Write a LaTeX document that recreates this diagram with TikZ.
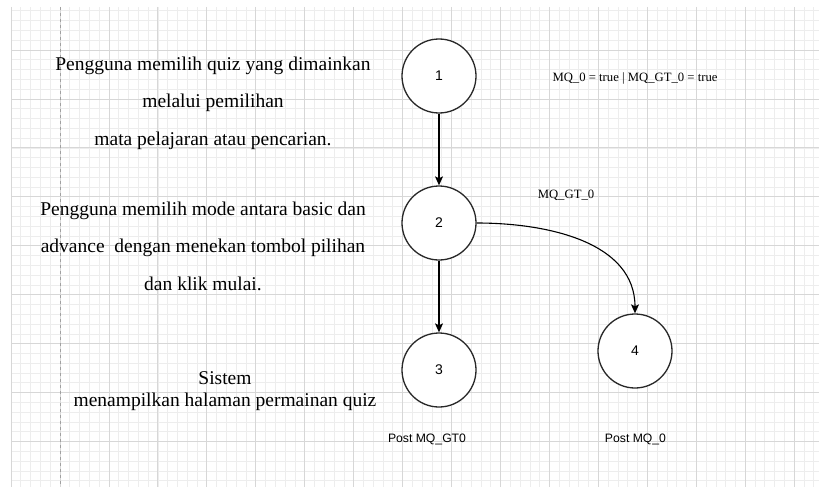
\documentclass[tikz,border=0pt]{standalone}
\usepackage{fontspec}
\setmainfont{Liberation Serif}
\newfontfamily\labelsans{Liberation Sans}
\usetikzlibrary{arrows.meta}

\definecolor{gridminor}{RGB}{237,237,237}
\definecolor{gridmajor}{RGB}{215,215,215}
\definecolor{pagebreak}{RGB}{160,160,160}
\definecolor{ringline}{RGB}{40,40,40}

\tikzset{
  state/.style={circle, draw=ringline, line width=1.3pt, fill=white,
    minimum size=74pt, inner sep=0pt, font=\labelsans\fontsize{14}{16}\selectfont},
  desc/.style={align=center, inner sep=0pt, font=\fontsize{19.5}{37.5}\selectfont},
  cond/.style={inner sep=0pt, anchor=base, font=\fontsize{12.7}{14}\selectfont},
  post/.style={inner sep=0pt, anchor=base, font=\labelsans\fontsize{12.2}{14}\selectfont},
  flow/.style={-{Stealth[length=9pt,width=8pt,inset=2pt]}, line width=1.1pt}
}

\begin{document}
\begin{tikzpicture}[x=1pt,y=-1pt]
\useasboundingbox (0,0) rectangle (819,487);

% grid
\foreach \i in {0,...,82}
  \draw [gridminor, line width=0.7pt] (11+\i*9.79,7) -- (11+\i*9.79,487);
\foreach \j in {1,...,49}
  \draw [gridminor, line width=0.7pt] (11,1+\j*9.79) -- (819,1+\j*9.79);
\foreach \i in {0,...,16}
  \draw [gridmajor, line width=0.8pt] (11+\i*48.95,7) -- (11+\i*48.95,487);
\foreach \j in {1,...,9}
  \draw [gridmajor, line width=0.8pt] (11,1+\j*48.95) -- (819,1+\j*48.95);
\draw [pagebreak, dashed, line width=0.8pt] (60,7) -- (60,487);

% states
\node (st1) at (439,76) [state] {1};
\node (st2) at (439,223) [state] {2};
\node (st3) at (439,370) [state] {3};
\node (st4) at (635,351) [state] {4};

\draw [flow] (st1) -- (st2);
\draw [flow] (st2) -- (st3);
\draw [flow] (st2.east) to [out=0, in=90] (st4.north);

% texts
\node (desc1) at (213,103) [desc] {Pengguna memilih quiz yang dimainkan\\
  melalui pemilihan\\ mata pelajaran atau pencarian.};
\node (desc2) at (203,246) [desc] {Pengguna memilih mode antara basic dan\\
  advance\ \ dengan menekan tombol pilihan\\ dan klik mulai.};
\node (desc3) at (225,391) [desc, font=\fontsize{19.5}{22.7}\selectfont]
  {Sistem\\ menampilkan halaman permainan quiz};

\node (cond1) at (635,81.7) [cond] {MQ\_0 = true | MQ\_GT\_0 = true};
\node (cond2) at (566,198) [cond] {MQ\_GT\_0};
\node (post3) at (427,442.7) [post] {Post MQ\_GT0};
\node (post4) at (635.5,442.7) [post] {Post MQ\_0};
\end{tikzpicture}
\end{document}
